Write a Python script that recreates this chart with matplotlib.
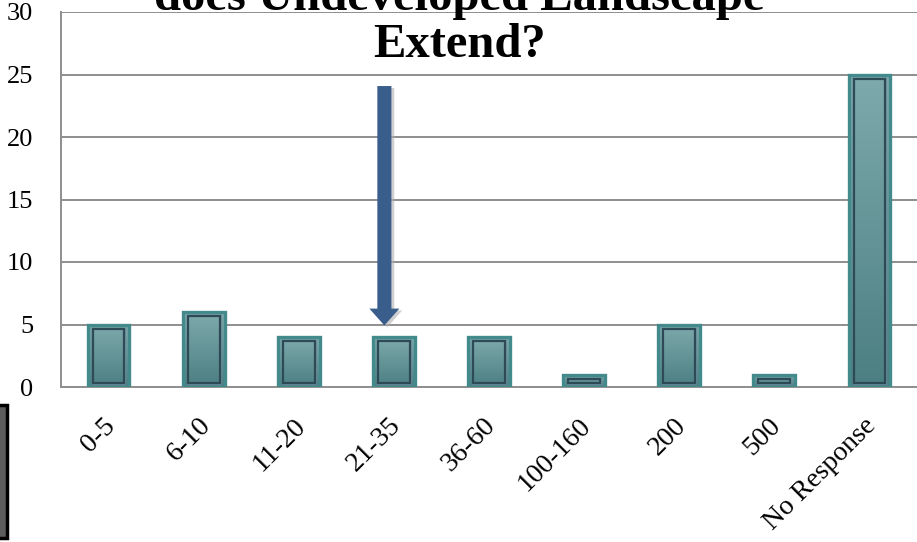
import numpy as np
import matplotlib
matplotlib.use("Agg")
import matplotlib.pyplot as plt
from matplotlib.patches import Rectangle, FancyArrowPatch
from matplotlib.colors import LinearSegmentedColormap
import matplotlib.transforms as mtransforms

# ---- data ----
categories = ['0-5', '6-10', '11-20', '21-35', '36-60', '100-160', '200', '500', 'No Response']
counts = [5, 6, 4, 4, 4, 1, 5, 1, 25]
y_ticks = [0, 5, 10, 15, 20, 25, 30]
title_line1 = 'does Undeveloped Landscape'
title_line2 = 'Extend?'
arrow_x = 2.9
arrow_top = 24.3
arrow_tip = 4.7

W, H = 917, 542
fig = plt.figure(figsize=(W / 100, H / 100), dpi=100)
fig.patch.set_facecolor('white')

ax_left, ax_bottom_px, ax_top_px = 61, 387, 12
ax = fig.add_axes([ax_left / W, 1 - ax_bottom_px / H, 1 - ax_left / W, (ax_bottom_px - ax_top_px) / H])
ax.set_facecolor('white')

serif = ['Liberation Serif', 'DejaVu Serif']
grid_col = '#8e8e8e'

x = np.arange(len(categories))
bw = 0.44

# shadows
ax.bar(x + 0.01, [c + 0.25 for c in counts], bottom=-0.3, width=bw + 0.02,
       color='#9a9a9a', alpha=0.3, linewidth=0, zorder=2)

bars = ax.bar(x, counts, width=bw, color='none', edgecolor='#428a8b', linewidth=2.4, zorder=4)
cmap = LinearSegmentedColormap.from_list('teal', ['#4b7f82', '#7eaaac'])
grad = np.linspace(0, 1, 256).reshape(-1, 1)
for b in bars:
    x0, y0, w, h = b.get_x(), b.get_y(), b.get_width(), b.get_height()
    im = ax.imshow(grad, cmap=cmap, origin='lower', extent=[x0, x0 + w, y0, y0 + h],
                   aspect='auto', zorder=3, interpolation='bilinear')
    im.set_clip_path(b)

# inner bevel outline
px_x = 1.0 / 95.1
px_y = 1.0 / 12.5
dx, dy = 5 * px_x, 4 * px_y
ax.bar(x, [c - 2 * dy for c in counts], bottom=dy, width=bw - 2 * dx,
       color='none', edgecolor='#2e4a56', linewidth=1.6, zorder=5)
ax.bar(x, [c - 2 * dy + 2 * px_y for c in counts], bottom=dy - px_y, width=bw - 2 * dx + 2 * px_x,
       color='none', edgecolor='#6f8fa0', linewidth=1.0, zorder=4.5, alpha=0.7)

ax.set_xlim(-0.5, len(categories) - 0.5)
ax.set_ylim(0, 30)

# grid & spines
ax.set_yticks(y_ticks)
ax.yaxis.grid(True, color=grid_col, linewidth=1.4, zorder=0)
ax.set_axisbelow(True)
for s in ['top', 'right']:
    ax.spines[s].set_visible(False)
for s in ['left', 'bottom']:
    ax.spines[s].set_color(grid_col)
    ax.spines[s].set_linewidth(1.4)
ax.tick_params(axis='both', length=0)
ax.tick_params(axis='y', pad=20)
for lab in ax.get_yticklabels():
    lab.set_fontfamily(serif)
    lab.set_fontsize(19)

# x category labels (rotated, end anchored under each bar)
ax.set_xticks(x)
ax.set_xticklabels([''] * len(categories))
offset = mtransforms.ScaledTranslation(3 / 100, -35 / 100, fig.dpi_scale_trans)
for xi, cat in zip(x, categories):
    ax.text(xi, 0, cat, transform=ax.get_xaxis_transform() + offset,
            rotation=45, rotation_mode='anchor', ha='right', va='center',
            fontsize=20, family=serif, color='black')

# arrow (with shadow)
style = 'simple,head_width=1.6,head_length=0.9,tail_width=0.75'
shadow = FancyArrowPatch((arrow_x + 0.03, arrow_top - 0.15), (arrow_x + 0.03, arrow_tip - 0.15),
                         arrowstyle=style, mutation_scale=13.5, color='#b0b0b0',
                         alpha=0.6, linewidth=0, zorder=6)
ax.add_patch(shadow)
arrow = FancyArrowPatch((arrow_x, arrow_top), (arrow_x, arrow_tip),
                        arrowstyle=style, mutation_scale=13.5, color='#3a5e8c',
                        linewidth=0, zorder=7)
ax.add_patch(arrow)

# title (top line cut off by the figure edge, as in the source)
fig.text(459 / W, 1 - 10 / H, title_line1, ha='center', va='baseline',
         fontsize=35, fontweight='bold', family=serif, color='black')
fig.text(459 / W, 1 - 57 / H, title_line2, ha='center', va='baseline',
         fontsize=35, fontweight='bold', family=serif, color='black')

# cropped dark box at bottom-left
fig.patches.append(Rectangle((-0.01, 1 - 538 / H), 7 / W + 0.01, (538 - 405) / H,
                             transform=fig.transFigure, facecolor='#5c5c5c',
                             edgecolor='black', linewidth=2.5, figure=fig))

fig.savefig('out.png', dpi=100)
